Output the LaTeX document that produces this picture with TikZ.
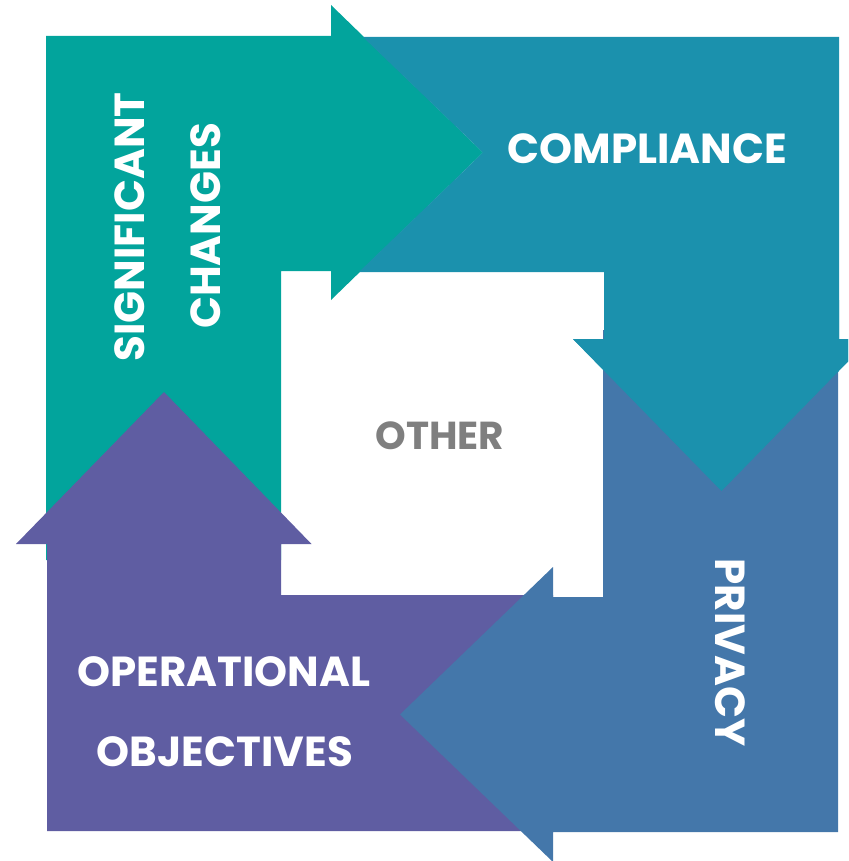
\documentclass[tikz,border=0pt]{standalone}
\usepackage{fontspec}
\setmainfont{Poppins}

\definecolor{changesgreen}{HTML}{02A49C}
\definecolor{complianceblue}{HTML}{1B91AD}
\definecolor{privacyblue}{HTML}{4477AA}
\definecolor{objectivespurple}{HTML}{5F5DA2}
\definecolor{othergrey}{HTML}{7F7F7F}

\begin{document}
\begin{tikzpicture}[x=1pt, y=-1pt]
\tikzset{word/.style={text=white, inner sep=0pt, font=\bfseries\fontsize{42}{48}\selectfont}}

\useasboundingbox (0,0) rectangle (848,861);
\clip (0,0) rectangle (848,861);

% left column, turning right along the top
\fill[changesgreen] (46,560) -- (46,36) -- (331,36) -- (331,5) -- (483,152.5)
  -- (331,300) -- (331,271) -- (281,271) -- (281,560) -- cycle;

% top band, turning down the right side (notched round the head on its left)
\fill[complianceblue] (363,37) -- (839,37) -- (839,339) -- (870,339) -- (721.5,491)
  -- (573,339) -- (604,339) -- (604,272) -- (359,272) -- (483,152.5) -- cycle;

% bottom band and left column, head pointing up
\fill[objectivespurple] (47,831) -- (553,831) -- (553,595) -- (281,595) -- (281,544)
  -- (311.5,544) -- (164,392) -- (16,544) -- (47,544) -- cycle;

% right column, turning left along the bottom
\fill[privacyblue] (603,330) -- (838,330) -- (838,832) -- (553,832) -- (553,862)
  -- (400,714.5) -- (553,567) -- (553,597) -- (603,597) -- cycle;

% redraw the blue head over the column beneath it
\fill[complianceblue] (604,300) -- (839,300) -- (839,339) -- (870,339) -- (721.5,491)
  -- (573,339) -- (604,339) -- cycle;

\node[word] (compliance) at (647.5,149) {COMPLIANCE};
\node[word, rotate=90] (significant) at (129.5,227) {SIGNIFICANT};
\node[word, rotate=90] (changes) at (206,226) {CHANGES};
\node[word, rotate=-90] (privacy) at (730,652.5) {PRIVACY};
\node[word] (operational) at (224,672) {OPERATIONAL};
\node[word] (objectives) at (225,752) {OBJECTIVES};
\node[word, text=othergrey, font=\bfseries\fontsize{39}{45}\selectfont] (other) at (440,435.5) {OTHER};
\end{tikzpicture}
\end{document}
